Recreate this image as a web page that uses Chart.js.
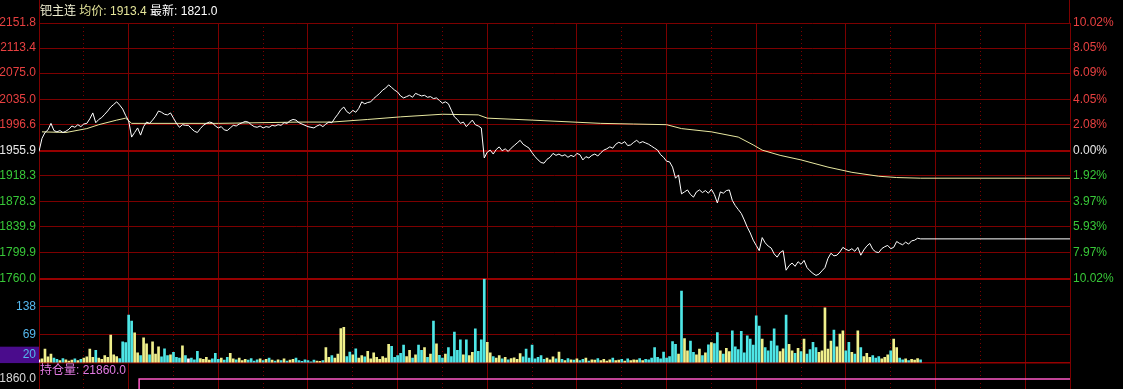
<!DOCTYPE html>
<html>
<head>
<meta charset="utf-8">
<script src="https://cdn.jsdelivr.net/npm/chart.js@4/dist/chart.umd.min.js"></script>
<style>
  html, body { margin: 0; padding: 0; background: #000; overflow: hidden; }
  #wrap { width: 1123px; height: 389px; }
</style>
</head>
<body>
<div id="wrap"><canvas id="chart" width="1123" height="389"></canvas></div>
<script>
// 钯主连 分时 — one value per trading minute
const SESSION_END = 345;      // minutes in the session (23 x 15 min)
const BASE_PRICE = 1955.9;    // 昨结算
const AVG_PRICE = 1913.4;
const OI_LAST = 21860.0;

const priceValues = [
  1955,1975,1984,1988,1998,1987,1985,1987,1984,1986,1989,1994,1992,1996,1993,1997,1998,2005,2014,1999,
  2004,2007,2012,2017,2023,2027,2031,2026,2020,2010,2002,1977,1984,1991,1980,1993,2000,1998,2003,2009,
  2017,2015,2012,2011,2014,2006,1998,1992,1996,1995,1995,1990,1986,1984,1990,1995,1998,2000,1999,1994,
  1991,1993,1988,1987,1991,1995,1994,1997,1999,2001,2000,1996,1993,1992,1994,1991,1993,1992,1995,1994,
  1996,1995,1999,1998,2002,2004,2003,1999,1997,1995,1993,1992,1991,1994,1996,1993,1997,2000,1999,2006,
  2012,2019,2023,2016,2013,2018,2015,2021,2031,2028,2030,2031,2036,2040,2044,2049,2052,2057,2053,2049,
  2046,2040,2037,2039,2041,2038,2044,2042,2040,2041,2038,2039,2036,2037,2033,2029,2031,2028,2018,2008,
  2004,1998,2000,1993,1998,2003,1996,1994,1991,1945,1954,1957,1951,1958,1962,1956,1959,1955,1960,1964,
  1968,1972,1966,1963,1960,1953,1947,1942,1938,1937,1943,1946,1952,1949,1951,1948,1950,1946,1949,1947,
  1952,1950,1942,1947,1945,1949,1951,1948,1953,1957,1959,1962,1960,1966,1969,1967,1970,1964,1965,1969,
  1972,1968,1970,1968,1966,1963,1960,1957,1950,1946,1940,1939,1931,1914,1919,1890,1893,1896,1889,1885,
  1893,1896,1892,1895,1891,1897,1889,1876,1893,1891,1895,1896,1880,1872,1866,1860,1850,1839,1830,1819,
  1811,1803,1823,1815,1810,1807,1798,1793,1800,1803,1773,1780,1784,1779,1786,1782,1788,1777,1772,1768,
  1765,1767,1772,1777,1791,1799,1795,1796,1801,1808,1805,1803,1806,1802,1808,1796,1804,1810,1814,1805,
  1801,1800,1806,1809,1811,1806,1808,1817,1814,1812,1816,1813,1818,1819,1822,1821
];

const avgMinutes = [1, 9, 16, 20, 26, 29, 31, 60, 87, 98, 110, 121, 135, 147, 150, 165, 188, 199, 210, 215, 225, 234, 239, 242, 248, 255, 264, 272, 281, 287, 295, 345];
const avgValues = [1985, 1984, 1990, 1996, 2003, 2006, 1998, 1998, 2000, 2000, 2004, 2008, 2012, 2011, 2006, 2003, 1998, 1997, 1996, 1990, 1985, 1977, 1965, 1957, 1949, 1942, 1931, 1923, 1917, 1915, 1914, 1914];

const volumeValues = [
  8,10,34,15,22,12,9,6,11,8,5,7,10,6,9,12,15,34,14,31,
  12,9,18,14,69,20,16,11,52,50,118,103,74,25,18,62,47,20,52,22,
  40,15,35,18,20,26,14,12,42,18,10,12,8,29,11,9,14,7,10,24,
  9,12,7,14,24,10,8,12,6,9,7,11,5,8,10,6,9,12,7,5,
  8,6,10,5,7,9,12,6,4,8,6,3,7,5,4,6,38,14,18,12,
  22,85,88,16,27,20,35,12,18,15,29,10,25,14,9,16,12,46,41,14,
  18,24,44,16,31,12,20,44,31,38,14,22,103,47,19,12,22,38,16,76,
  31,57,20,57,18,26,84,29,57,207,51,25,16,12,18,10,14,8,11,13,
  9,23,15,34,12,44,10,14,18,9,12,8,15,10,27,9,6,11,8,7,
  10,6,9,12,5,8,7,11,6,9,5,8,12,6,7,9,5,10,6,8,
  7,11,6,9,8,12,38,14,10,27,12,16,53,46,22,177,60,30,54,26,
  20,34,18,25,45,50,48,75,30,22,36,28,79,40,33,78,25,67,59,44,
  116,91,59,38,30,54,84,42,28,35,118,46,30,24,36,28,59,22,33,51,
  38,26,30,136,34,54,81,40,71,79,30,51,26,22,79,38,16,24,14,18,
  12,16,10,14,20,30,59,38,12,8,10,6,9,7,11,8
];

const oiMinutes = [0, 33.5, 33.5, 345];
const oiValues = [21820, 21820, 21860, 21860];

// tick labels
const priceTicks = [1760.0, 1799.9, 1839.9, 1878.3, 1918.3, 1955.9, 1996.6, 2035.0, 2075.0, 2113.4, 2151.8];
const pctLabels = ['10.02%', '7.97%', '5.93%', '3.97%', '1.92%', '0.00%', '2.08%', '4.05%', '6.09%', '8.05%', '10.02%'];
const volTicks = [0, 20, 69, 138];
const VOL_MAX = 207.6;
const oiTicks = [21860];
const solidMinutes = [0, 30, 60, 90, 120, 150, 180, 210, 240, 270, 300, 330, 345];
const dottedMinutes = [15, 45, 75, 105, 135, 165, 195, 225, 255, 285, 315];

// colours
const GRID = '#7c0000';
const GRID_BOLD = '#960000';
const RED_TXT = '#e84040';
const GREEN_TXT = '#38c838';
const WHITE_TXT = '#e8e8e8';
const UP_BAR = '#f0f08c';
const DOWN_BAR = '#4ee6e6';
const FLAT_BAR = '#ffffff';

Chart.defaults.font.family = '"Liberation Sans", Arial, "Noto Sans CJK SC", sans-serif';
Chart.defaults.font.size = 12;

function sideColor(v) {
  if (Math.abs(v - BASE_PRICE) < 0.01) return WHITE_TXT;
  return v > BASE_PRICE ? RED_TXT : GREEN_TXT;
}

function fixWidth(w) {
  return function(scale) {
    scale.width = w;
    scale.paddingTop = 0;
    scale.paddingBottom = 0;
  };
}

function flatAxis(scale) {
  scale.height = 0;
  scale.paddingLeft = 0;
  scale.paddingRight = 0;
}

function setTicks(values) {
  return function(scale) {
    scale.ticks = values.map(v => ({ value: v }));
  };
}

function isBold(c) {
  return c.tick && (Math.abs(c.tick.value - BASE_PRICE) < 0.01 || c.tick.value === 1760);
}

const pricePoints = priceValues.map((v, i) => ({ x: i, y: v }));
// the last price is carried to the end of the session
pricePoints.push({ x: SESSION_END, y: priceValues[priceValues.length - 1] });
const avgPoints = avgMinutes.map((m, i) => ({ x: m, y: avgValues[i] }));
const volPoints = volumeValues.map((v, i) => ({ x: i, y: v }));
const oiPoints = oiMinutes.map((m, i) => ({ x: m, y: oiValues[i] }));

// bar colour follows the minute's price move
const volColors = volumeValues.map((v, i) => {
  if (i === 0 || priceValues[i] === priceValues[i - 1]) return FLAT_BAR;
  return priceValues[i] > priceValues[i - 1] ? UP_BAR : DOWN_BAR;
});

// header + frame drawn on top
const overlay = {
  id: 'overlay',
  afterDraw(chart) {
    const ctx = chart.ctx;
    const a = chart.chartArea;
    ctx.save();
    ctx.strokeStyle = GRID;
    ctx.lineWidth = 1;
    ctx.beginPath();
    ctx.moveTo(Math.round(a.left) + 0.5, 0);
    ctx.lineTo(Math.round(a.left) + 0.5, a.top);
    ctx.moveTo(Math.round(a.right) - 0.5, 0);
    ctx.lineTo(Math.round(a.right) - 0.5, a.top);
    ctx.stroke();

    ctx.font = '12px "Liberation Sans", Arial, "Noto Sans CJK SC", sans-serif';
    ctx.textBaseline = 'middle';
    ctx.textAlign = 'left';
    const parts = [
      ['钯主连 ', '#f0f0d2'],
      ['均价: ' + AVG_PRICE.toFixed(1) + ' ', '#e6e69a'],
      ['最新: ' + priceValues[priceValues.length - 1].toFixed(1), '#ffffff']
    ];
    let x = a.left + 1;
    parts.forEach(([t, c]) => {
      ctx.fillStyle = c;
      ctx.fillText(t, x, 12);
      x += ctx.measureText(t).width;
    });

    ctx.fillStyle = '#e27ae2';
    ctx.fillText('持仓量: ' + OI_LAST.toFixed(1), a.left + 1, 371);
    ctx.restore();
  }
};

const ctx = document.getElementById('chart').getContext('2d');
const chart = new Chart(ctx, {
  type: 'line',
  data: {
    datasets: [
      {
        type: 'bar',
        data: volPoints,
        xAxisID: 'x',
        yAxisID: 'yVol',
        backgroundColor: volColors,
        borderWidth: 0,
        barThickness: 2,
        order: 3
      },
      {
        data: avgPoints,
        xAxisID: 'x',
        yAxisID: 'yPrice',
        borderColor: '#e8e8a0',
        borderWidth: 1,
        pointRadius: 0,
        tension: 0,
        order: 2
      },
      {
        data: pricePoints,
        xAxisID: 'x',
        yAxisID: 'yPrice',
        borderColor: '#ffffff',
        borderWidth: 1,
        pointRadius: 0,
        tension: 0,
        order: 1
      },
      {
        data: oiPoints,
        xAxisID: 'x',
        yAxisID: 'yOi',
        borderColor: '#ff5ac8',
        borderWidth: 1.5,
        pointRadius: 0,
        tension: 0,
        order: 0
      }
    ]
  },
  options: {
    responsive: false,
    animation: false,
    events: [],
    layout: { padding: { top: 23, left: 0, right: 0, bottom: 0 } },
    plugins: {
      legend: { display: false },
      tooltip: { enabled: false }
    },
    scales: {
      x: {
        type: 'linear',
        position: 'bottom',
        offset: false,
        min: 0,
        max: SESSION_END,
        afterBuildTicks: setTicks(solidMinutes),
        ticks: { display: false },
        grid: { color: GRID, lineWidth: 1, drawTicks: false, offset: false },
        border: { display: false },
        afterFit: flatAxis
      },
      x2: {
        type: 'linear',
        position: 'bottom',
        offset: false,
        min: 0,
        max: SESSION_END,
        afterBuildTicks: setTicks(dottedMinutes),
        ticks: { display: false },
        grid: { color: GRID, lineWidth: 1, drawTicks: false, offset: false },
        border: { display: false, dash: [1, 3] },
        afterFit: flatAxis
      },
      yPrice: {
        type: 'linear',
        position: 'left',
        stack: 'L',
        stackWeight: 255.7,
        weight: 3,
        min: 1760,
        max: 2151.8,
        afterBuildTicks: setTicks(priceTicks),
        ticks: {
          autoSkip: false,
          padding: 3,
          color: c => sideColor(c.tick.value),
          callback: v => v.toFixed(1)
        },
        grid: {
          drawTicks: false,
          color: c => isBold(c) ? GRID_BOLD : GRID,
          lineWidth: c => isBold(c) ? 2 : 1
        },
        border: { display: false },
        afterFit: fixWidth(39)
      },
      yVol: {
        type: 'linear',
        position: 'left',
        stack: 'L',
        stackWeight: 84.3,
        weight: 2,
        min: 0,
        max: VOL_MAX,
        afterBuildTicks: setTicks(volTicks),
        ticks: {
          autoSkip: false,
          padding: 3,
          color: '#55b8ee',
          callback: v => v === 0 ? '' : String(v),
          showLabelBackdrop: c => !!(c.tick && c.tick.value === 20),
          backdropColor: '#4a0c8c',
          backdropPadding: { left: 23, right: 3, top: 1, bottom: 1 }
        },
        grid: {
          drawTicks: false,
          color: c => (c.tick && c.tick.value === 20) ? 'rgba(0,0,0,0)' : (c.tick && c.tick.value === 0 ? GRID_BOLD : GRID),
          lineWidth: c => (c.tick && c.tick.value === 0) ? 1.5 : 1
        },
        border: { display: false },
        afterFit: fixWidth(39)
      },
      yOi: {
        type: 'linear',
        position: 'left',
        stack: 'L',
        stackWeight: 26,
        weight: 1,
        min: 21850,
        max: 21876,
        afterBuildTicks: setTicks(oiTicks),
        ticks: {
          autoSkip: false,
          padding: 3,
          color: '#d8d8d8',
          callback: v => v.toFixed(1)
        },
        grid: { display: false, drawTicks: false },
        border: { display: false },
        afterFit: fixWidth(39)
      },
      yPct: {
        type: 'linear',
        position: 'right',
        stack: 'R',
        stackWeight: 255.7,
        weight: 1,
        min: 1760,
        max: 2151.8,
        afterBuildTicks: setTicks(priceTicks),
        ticks: {
          autoSkip: false,
          padding: 3,
          color: c => sideColor(c.tick.value),
          callback: (v, i) => pctLabels[i]
        },
        grid: { display: false, drawTicks: false },
        border: { display: false },
        afterFit: fixWidth(53)
      },
      yPctPad: {
        type: 'linear',
        position: 'right',
        stack: 'R',
        stackWeight: 110.3,
        weight: 2,
        ticks: { display: false },
        grid: { display: false, drawTicks: false },
        border: { display: false },
        afterFit: fixWidth(53)
      }
    }
  },
  plugins: [overlay]
});
</script>
</body>
</html>
